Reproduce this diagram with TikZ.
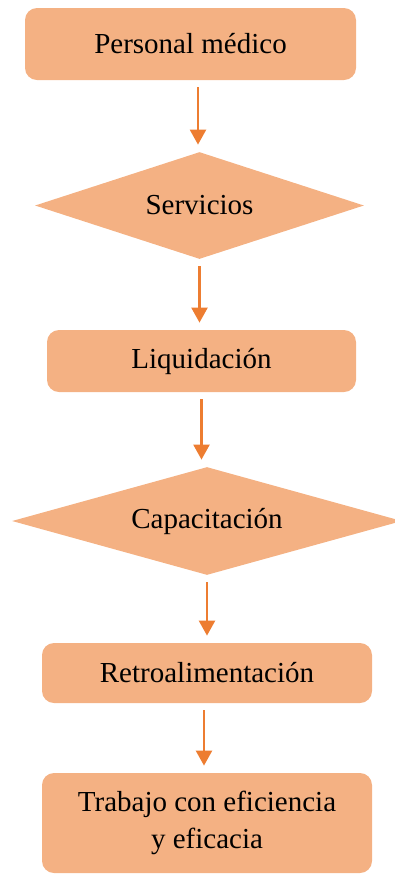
\documentclass[tikz,border=0pt]{standalone}
\usepackage{fontspec}
\setmainfont{Liberation Serif}
\usetikzlibrary{shapes.geometric,arrows.meta}
\definecolor{boxfill}{HTML}{F4B183}
\definecolor{arrcol}{HTML}{ED7D31}
\tikzset{
  stepbox/.style={rectangle, rounded corners=6pt, fill=boxfill, draw=none, inner sep=0pt,
    align=center, font=\fontsize{14.5}{18.5}\selectfont},
  decide/.style={diamond, fill=boxfill, draw=none, inner sep=0pt, aspect=3,
    font=\fontsize{14.5}{18.5}\selectfont},
  flowarr/.style={draw=arrcol, line width=1.2pt, -{Triangle[width=8pt,length=7.5pt]},
    shorten <=3.5pt, shorten >=3.5pt}
}
\begin{document}
\begin{tikzpicture}[x=0.5pt,y=-0.5pt]
\useasboundingbox (0,0) rectangle (395,874);
\node[stepbox, minimum width=165.5pt, minimum height=36pt] (b1) at (190.5,44) {Personal médico};
\node[decide, minimum width=164.5pt, minimum height=53.5pt] (d1) at (199.5,205.5) {Servicios};
\node[stepbox, minimum width=154.5pt, minimum height=31pt] (b2) at (201.5,361) {Liquidación};
\node[decide, minimum width=195pt, minimum height=54pt] (d2) at (207,521) {Capacitación};
\node[stepbox, minimum width=165pt, minimum height=30pt] (b3) at (207,673) {Retroalimentación};
\node[stepbox, minimum width=165pt, minimum height=50pt] (b4) at (207,823) {Trabajo con eficiencia\\y eficacia};
\draw[flowarr] ([xshift=-0.75pt]d1.north |- b1.south) -- ([xshift=-0.75pt]d1.north);
\draw[flowarr] (d1.south) -- (d1.south |- b2.north);
\draw[flowarr] (b2.south) -- (b2.south |- d2.north);
\draw[flowarr] (d2.south) -- (b3.north);
\draw[flowarr] ([xshift=-1.5pt]b3.south) -- ([xshift=-1.5pt]b4.north);
\end{tikzpicture}
\end{document}
